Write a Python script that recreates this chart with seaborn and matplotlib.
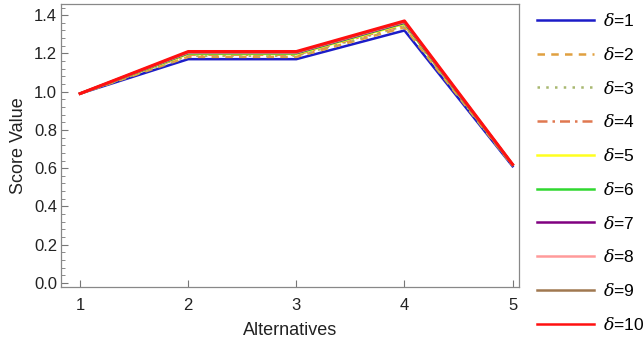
import pandas as pd
import numpy as np
import seaborn as sns
import matplotlib.pyplot as plt
from matplotlib.ticker import MultipleLocator

alternatives = [1, 2, 3, 4, 5]
deltas = [1, 2, 3, 4, 5, 6, 7, 8, 9, 10]

# score values per delta
score_d1 = [0.99, 1.170, 1.170, 1.320, 0.610]
score_d2 = [0.99, 1.182, 1.182, 1.336, 0.613]
score_d3 = [0.99, 1.188, 1.188, 1.344, 0.615]
score_d4 = [0.99, 1.193, 1.193, 1.350, 0.616]
score_d5 = [0.99, 1.197, 1.197, 1.355, 0.617]
score_d6 = [0.99, 1.200, 1.200, 1.359, 0.618]
score_d7 = [0.99, 1.203, 1.203, 1.362, 0.618]
score_d8 = [0.99, 1.205, 1.205, 1.365, 0.619]
score_d9 = [0.99, 1.207, 1.207, 1.367, 0.619]
score_d10 = [0.99, 1.210, 1.210, 1.370, 0.620]

scores = [score_d1, score_d2, score_d3, score_d4, score_d5,
          score_d6, score_d7, score_d8, score_d9, score_d10]

colors = ['#1c1cc8', '#e0a040', '#a8b870', '#e07850', '#ffff20',
          '#30d830', '#800080', '#ff9a9a', '#a07850', '#ff1010']
styles = ['-', (0, (3, 2.5)), (0, (1, 2.5)), (0, (4, 2, 1, 2)), '-',
          '-', '-', '-', '-', '-']
widths = [1.8, 1.8, 1.8, 1.8, 1.8, 1.8, 1.8, 1.8, 1.8, 2.2]

plt.rcParams['font.family'] = ['Liberation Sans', 'DejaVu Sans']
plt.rcParams['mathtext.fontset'] = 'dejavuserif'

fig, ax_ = plt.subplots(figsize=(6.44, 3.41), dpi=100)
fig.subplots_adjust(left=0.095, right=0.806, top=0.988, bottom=0.158)

for idx, d in enumerate(deltas):
    df = pd.DataFrame({'x': alternatives, 'y': scores[idx]})
    sns.lineplot(data=df, x='x', y='y', ax=ax_, color=colors[idx],
                 linestyle=styles[idx], linewidth=widths[idx],
                 label=r'$\delta$=' + str(d))

ax_.set_xlim(0.825, 5.06)
ax_.set_ylim(-0.022, 1.458)
ax_.set_xticks(alternatives)
ax_.yaxis.set_major_locator(MultipleLocator(0.2))
ax_.yaxis.set_minor_locator(MultipleLocator(0.04))
ax_.yaxis.set_major_formatter(plt.FormatStrFormatter('%.1f'))
ax_.tick_params(direction='in', colors='#777777', labelcolor='#222222',
                labelsize=12, length=5, width=0.8)
ax_.tick_params(axis='x', pad=8)
ax_.tick_params(axis='y', pad=3)
ax_.tick_params(which='minor', direction='in', colors='#777777', length=3, width=0.6)
for sp in ax_.spines.values():
    sp.set_color('#888888')
    sp.set_linewidth(0.9)

ax_.set_xlabel('Alternatives', fontsize=13, color='#222222', labelpad=6)
ax_.set_ylabel('Score Value', fontsize=13, color='#222222', labelpad=5)

leg = ax_.legend(loc='upper left', bbox_to_anchor=(1.039, 0.972), frameon=False,
                 fontsize=12.5, handlelength=3.3, labelspacing=0.965, handletextpad=0.5,
                 borderaxespad=0, borderpad=0)
for line in leg.get_lines():
    line.set_linewidth(1.8)

plt.savefig('out.png', dpi=100)
